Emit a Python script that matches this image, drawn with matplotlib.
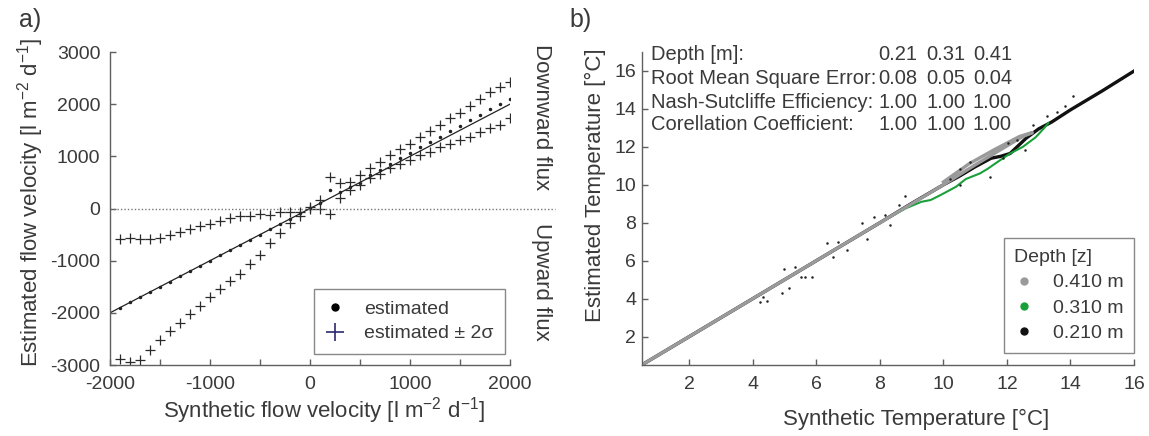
import matplotlib
matplotlib.use("Agg")
import matplotlib.pyplot as plt
from matplotlib.lines import Line2D

# ---- panel a: flow velocity ----
flow_syn = [-1900, -1800, -1700, -1600, -1500, -1400, -1300, -1200, -1100, -1000,
            -900, -800, -700, -600, -500, -400, -300, -200, -100, 0,
            100, 200, 300, 400, 500, 600, 700, 800, 900, 1000,
            1100, 1200, 1300, 1400, 1500, 1600, 1700, 1800, 1900, 2000]
flow_est = [-1900, -1800, -1700, -1600, -1500, -1400, -1300, -1200, -1100, -1000,
            -900, -800, -700, -600, -500, -400, -300, -200, -95, 5,
            110, 360, 320, 420, 495, 640, 745, 853, 962, 1058,
            1173, 1269, 1377, 1486, 1581, 1696, 1792, 1901, 1997, 2099]
flow_upper = [-585, -565, -578, -578, -565, -514, -444, -399, -342, -303,
              -246, -182, -137, -137, -99, -118, -73, -75, -60, 35,
              165, 605, 483, 514, 642, 770, 898, 1025, 1134, 1240,
              1370, 1485, 1600, 1728, 1836, 1965, 2093, 2239, 2335, 2431]
flow_lower = [-2891, -2942, -2910, -2712, -2515, -2348, -2189, -2022, -1863, -1702,
              -1543, -1384, -1250, -1064, -891, -667, -475, -270, -135, -15,
              -10, -110, 195, 355, 450, 578, 661, 770, 853, 930,
              1025, 1089, 1185, 1236, 1313, 1377, 1473, 1537, 1600, 1741]
one_to_one = [-2000, 2000]

# ---- panel b: temperature ----
syn_021 = [0.5, 2.0, 4.0, 6.0, 8.0, 9.0, 10.0, 10.5, 11.0, 11.5, 11.8, 12.1,
           12.6, 13.0, 13.4, 14.0, 15.0, 16.1]
est_021 = [0.5, 2.0, 4.0, 6.0, 8.0, 9.02, 10.0, 10.45, 10.95, 11.4, 11.5, 11.65,
           12.45, 12.95, 13.3, 13.95, 14.95, 16.1]
syn_031 = [1.6, 3.0, 5.0, 7.0, 8.0, 8.8, 9.3, 9.6, 9.9, 10.4, 10.7, 11.15,
           11.4, 11.7, 12.1, 12.5, 12.9, 13.15, 13.3]
est_031 = [1.6, 3.0, 5.0, 7.0, 8.0, 8.75, 9.1, 9.2, 9.45, 9.9, 10.3, 10.6,
           10.85, 11.2, 11.65, 12.0, 12.5, 12.95, 13.25]
syn_041 = [0.5, 1.0, 2.0, 3.0, 4.0, 5.0, 6.0, 7.0, 8.0, 9.0, 10.0, 11.0,
           11.8, 12.5, 12.8, 12.4, 11.6, 10.8, 10.0]
est_041 = [0.5, 1.0, 2.0, 3.0, 4.0, 5.0, 6.0, 7.0, 8.0, 9.0, 10.0, 11.05,
           11.85, 12.55, 12.75, 12.55, 11.85, 11.1, 10.15]
out_syn = [4.22, 4.33, 4.44, 4.91, 4.99, 5.15, 5.33, 5.51, 5.65, 5.85, 6.33, 6.51,
           6.69, 6.97, 7.45, 7.58, 7.82, 8.16, 8.32, 8.61, 8.79, 10.21, 10.52, 10.52,
           10.84, 11.47, 11.89, 12.04, 12.31, 12.57, 12.83, 13.25, 13.57, 13.83, 14.09]
out_est = [3.84, 4.07, 3.89, 4.28, 5.54, 4.54, 5.65, 5.12, 5.12, 5.15, 6.92, 6.21,
           7.0, 6.56, 8.0, 7.13, 8.32, 8.41, 7.88, 8.93, 9.41, 10.29, 10.82, 9.99,
           11.22, 10.4, 11.4, 12.19, 12.36, 11.83, 13.15, 13.63, 13.85, 14.15, 14.68]

stat_rows = ["Depth [m]:", "Root Mean Square Error:", "Nash-Sutcliffe Efficiency:",
             "Corellation Coefficient:"]
stat_vals = [["0.21", "0.31", "0.41"],
             ["0.08", "0.05", "0.04"],
             ["1.00", "1.00", "1.00"],
             ["1.00", "1.00", "1.00"]]

plt.rcParams["font.family"] = ["Liberation Sans", "DejaVu Sans"]
plt.rcParams["axes.unicode_minus"] = False
plt.rcParams["mathtext.fontset"] = "custom"
plt.rcParams["mathtext.rm"] = "Liberation Sans"
plt.rcParams["mathtext.default"] = "regular"

TXT = "#3a3a3a"
SPN = "#606060"

fig = plt.figure(figsize=(11.49, 4.36), dpi=100)
ax1 = fig.add_axes([110 / 1149, 71 / 436, 400 / 1149, 313 / 436])
ax2 = fig.add_axes([641.7 / 1149, 71 / 436, 492.3 / 1149, 313 / 436])

for ax in (ax1, ax2):
    for s in ("top", "right"):
        ax.spines[s].set_visible(False)
    for s in ("left", "bottom"):
        ax.spines[s].set_color(SPN)
        ax.spines[s].set_linewidth(1.0)
    ax.tick_params(direction="in", length=4, width=1, colors=SPN,
                   labelcolor=TXT, labelsize=14)

# panel a
ax1.plot(one_to_one, one_to_one, color="#222222", lw=0.9)
ax1.plot(flow_syn, flow_est, ".", color="#222222", markersize=3)
ax1.plot(flow_syn, flow_upper, "+", color="#2b2b2b", markersize=6.5, mew=0.9)
ax1.plot(flow_syn, flow_lower, "+", color="#2b2b2b", markersize=6.5, mew=0.9)
ax1.axhline(0, xmin=0, xmax=1.1125, color="#777777", lw=1, ls=(0, (1, 1.5)),
            clip_on=False)
ax1.set_xlim(-2000, 2000)
ax1.set_ylim(-3000, 3000)
ax1.set_xticks([-2000, -1500, -1000, -500, 0, 500, 1000, 1500, 2000])
ax1.set_xticklabels(["-2000", "", "-1000", "", "0", "", "1000", "", "2000"])
ax1.set_yticks([-3000, -2000, -1000, 0, 1000, 2000, 3000])
ax1.tick_params(axis="y", pad=7)
ax1.tick_params(axis="x", pad=8)
ax1.set_xlabel(r"Synthetic flow velocity [l m$^{-2}$ d$^{-1}$]", fontsize=16, color=TXT)
ax1.set_ylabel(r"Estimated flow velocity [l m$^{-2}$ d$^{-1}$]", fontsize=16, color=TXT)
ax1.xaxis.label.set_va("center")
ax1.yaxis.label.set_va("center")
ax1.xaxis.set_label_coords(0.536, -0.144)
ax1.yaxis.set_label_coords(-0.198, 0.519)
ax1.text(1.078, 0.791, "Downward flux", rotation=270, fontsize=16, color=TXT,
         ha="center", va="center", transform=ax1.transAxes)
ax1.text(1.078, 0.264, "Upward flux", rotation=270, fontsize=16, color=TXT,
         ha="center", va="center", transform=ax1.transAxes)
h_est = Line2D([], [], ls="none", marker="o", color="black", markersize=5)
h_sig = Line2D([], [], ls="none", marker="+", color="#2e2a6e", markersize=13, mew=1.2)
leg1 = ax1.legend([h_est, h_sig], ["estimated", "estimated \u00b1 2\u03c3"],
                  loc="lower right", bbox_to_anchor=(0.9875, 0.035), borderaxespad=0,
                  fontsize=14, frameon=True, fancybox=False, framealpha=1,
                  edgecolor="#888888", labelspacing=0.35, borderpad=0.6,
                  handlelength=0.97, handletextpad=1.0, labelcolor=TXT)
leg1.get_frame().set_linewidth(1.0)
fig.text(0.0265, 0.954, "a)", fontsize=18, color=TXT, ha="center", va="center")

# panel b
ax2.plot(syn_021, est_021, color="#111111", lw=2.4, solid_capstyle="round")
ax2.plot(syn_031, est_031, color="#1aa03a", lw=1.5)
ax2.plot(syn_041, est_041, color="#9a9a9a", lw=2.4)
ax2.plot(out_syn, out_est, ".", color="#222222", markersize=1.6)
ax2.set_xlim(0.5, 16)
ax2.set_ylim(0.5, 17)
ax2.set_xticks([2, 4, 6, 8, 10, 12, 14, 16])
ax2.set_yticks([2, 4, 6, 8, 10, 12, 14, 16])
ax2.tick_params(axis="y", pad=4)
ax2.tick_params(axis="x", pad=8)
ax2.set_xlabel("Synthetic Temperature [\u00b0C]", fontsize=16, color=TXT)
ax2.set_ylabel("Estimated Temperature [\u00b0C]", fontsize=16, color=TXT)
ax2.xaxis.label.set_va("center")
ax2.yaxis.label.set_va("center")
ax2.xaxis.set_label_coords(0.558, -0.173)
ax2.yaxis.set_label_coords(-0.094, 0.575)

row_y = [55, 78, 102, 125]
col_x = [917, 965, 1012]
for i, label in enumerate(stat_rows):
    fy = 1 - row_y[i] / 436
    fig.text(650.8 / 1149, fy, label, fontsize=14.5, color=TXT, ha="left", va="center")
    for j, v in enumerate(stat_vals[i]):
        fig.text(col_x[j] / 1149, fy, v, fontsize=14.5, color=TXT, ha="right", va="center")

hb = [Line2D([], [], ls="none", marker="o", color=c, markersize=5)
      for c in ("#9a9a9a", "#1aa03a", "#111111")]
leg2 = ax2.legend(hb, ["0.410 m", "0.310 m", "0.210 m"], title="Depth [z]",
                  loc="lower right", bbox_to_anchor=(1.0, 0.039), borderaxespad=0,
                  fontsize=14, title_fontsize=14, alignment="left", frameon=True,
                  fancybox=False, framealpha=1, edgecolor="#888888",
                  labelspacing=0.4, borderpad=0.55, handlelength=0.97,
                  handletextpad=1.0, labelcolor=TXT)
leg2.get_title().set_color(TXT)
leg2.get_frame().set_linewidth(1.0)
fig.text(0.505, 0.954, "b)", fontsize=18, color=TXT, ha="center", va="center")

fig.savefig("out.png", dpi=100)
